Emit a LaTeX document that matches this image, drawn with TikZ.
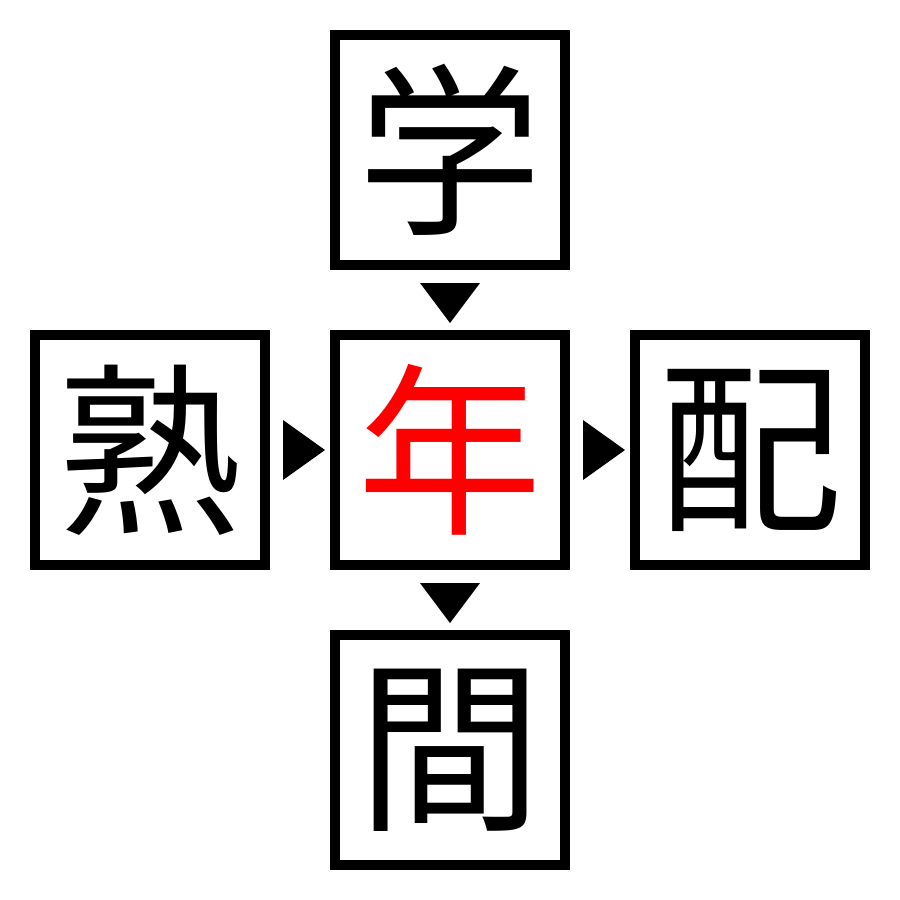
\documentclass[tikz,border=0pt]{standalone}
\usepackage{fontspec}
\newfontfamily\cjk{Noto Sans CJK JP}
\usetikzlibrary{calc}
\tikzset{
  kbox/.style={draw=black, line width=10pt, minimum width=230pt, minimum height=230pt, inner sep=0pt, font=\cjk\fontsize{185pt}{185pt}\selectfont, text=black},
  tri/.style={fill=black, draw=none}
}
\begin{document}
\begin{tikzpicture}[x=1pt,y=-1pt]
\useasboundingbox (0,0) rectangle (900,900);
\node[kbox] (t) at (450,150) {学};
\node[kbox] (l) at (150,450) {熟};
\node[kbox, text=red] (c) at (450,450) {年};
\node[kbox] (r) at (750,450) {配};
\node[kbox] (b) at (450,750) {間};
% triangles between boxes
\fill[tri] ($(t.south)+(-30,13)$) -- ($(t.south)+(30,13)$) -- ($(c.north)+(0,-7)$) -- cycle;
\fill[tri] ($(c.south)+(-30,13)$) -- ($(c.south)+(30,13)$) -- ($(b.north)+(0,-7)$) -- cycle;
\fill[tri] ($(l.east)+(13,-30)$) -- ($(l.east)+(13,30)$) -- ($(c.west)+(-5,0)$) -- cycle;
\fill[tri] ($(c.east)+(13,-30)$) -- ($(c.east)+(13,30)$) -- ($(r.west)+(-5,0)$) -- cycle;
\end{tikzpicture}
\end{document}
